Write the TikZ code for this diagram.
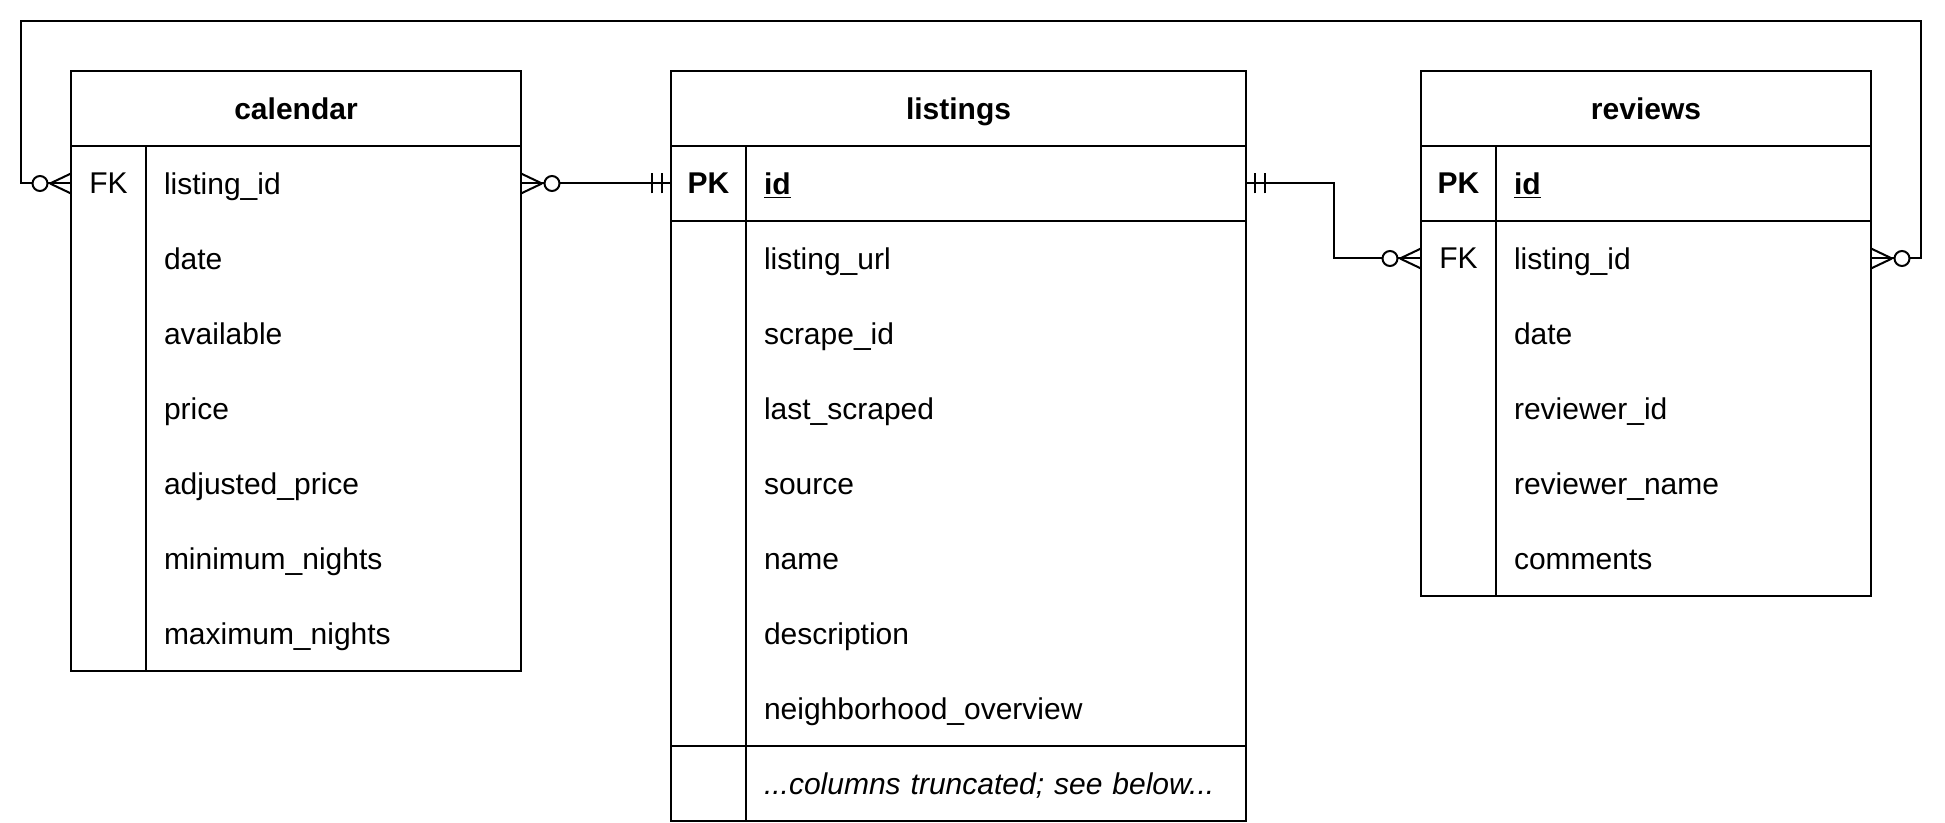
\documentclass[tikz,border=0pt]{standalone}
\usepackage{fontspec}
\setmainfont{Liberation Sans}
\usetikzlibrary{positioning,calc}

% crow's foot ends
\tikzset{
  zmany/.pic={
    \draw (21,0) -- (0,10) (21,0) -- (0,-10);
    \draw[fill=white] (31,0) circle[radius=7.5];
  },
  onlyone/.pic={
    \draw (9,10) -- (9,-10) (19,10) -- (19,-10);
  }
}

\begin{document}
\begin{tikzpicture}[x=0.5pt, y=-0.5pt, line width=1pt,
    font=\fontsize{15}{18}\selectfont,
    every node/.style={inner sep=0pt, outer sep=0pt},
    title/.style={draw, font=\fontsize{15}{18}\selectfont\bfseries, minimum height=37.5pt,
                  text height=10.75pt, text depth=0pt},
    keycell/.style={minimum width=37.5pt, minimum height=37.5pt},
    pkcell/.style={keycell, font=\fontsize{15}{18}\selectfont\bfseries},
    field/.style={minimum height=37.5pt, text width=#1, align=left,
                  inner xsep=9pt, text height=10.75pt, text depth=0pt},
    field/.default=169.5pt]

   \useasboundingbox (0,0) rectangle (1945,823);

   % calendar
   \node[title, minimum width=225pt, anchor=north west] (cal) at (71,71) {calendar};
   \node[keycell, anchor=north west] (calk1) at (cal.south west) {FK};
   \node[field, anchor=north west] (cal1) at (calk1.north east) {listing\_id};
   \node[field, below=0pt of cal1] (cal2) {date};
   \node[field, below=0pt of cal2] (cal3) {available};
   \node[field, below=0pt of cal3] (cal4) {price};
   \node[field, below=0pt of cal4] (cal5) {adjusted\_price};
   \node[field, below=0pt of cal5] (cal6) {minimum\_nights};
   \node[field, below=0pt of cal6] (cal7) {maximum\_nights};
   \draw (cal.south west) rectangle (cal7.south east);
   \draw (calk1.north east) -- (calk1.north east |- cal7.south);

   % listings
   \node[title, minimum width=287.5pt, anchor=north west] (lst) at (671,71) {listings};
   \node[pkcell, anchor=north west] (lstk1) at (lst.south west) {PK};
   \node[field=232pt, font=\fontsize{15}{18}\selectfont\bfseries,
         anchor=north west] (lst1) at (lstk1.north east) {\underline{id}};
   \node[field=232pt, below=0pt of lst1] (lst2) {listing\_url};
   \node[field=232pt, below=0pt of lst2] (lst3) {scrape\_id};
   \node[field=232pt, below=0pt of lst3] (lst4) {last\_scraped};
   \node[field=232pt, below=0pt of lst4] (lst5) {source};
   \node[field=232pt, below=0pt of lst5] (lst6) {name};
   \node[field=232pt, below=0pt of lst6] (lst7) {description};
   \node[field=232pt, below=0pt of lst7] (lst8) {neighborhood\_overview};
   \node[field=232pt, below=0pt of lst8] (lst9) {\textit{...columns truncated; see below...}};
   \draw (lst.south west) rectangle (lst9.south east);
   \draw (lstk1.north east) -- (lstk1.north east |- lst9.south);
   \draw (lstk1.south west) -- (lst1.south east);
   \draw (lst9.north west -| lst.west) -- (lst9.north east);

   % reviews
   \node[title, minimum width=225pt, anchor=north west] (rev) at (1421,71) {reviews};
   \node[pkcell, anchor=north west] (revk1) at (rev.south west) {PK};
   \node[field, font=\fontsize{15}{18}\selectfont\bfseries,
         anchor=north west] (rev1) at (revk1.north east) {\underline{id}};
   \node[keycell, below=0pt of revk1] (revk2) {FK};
   \node[field, below=0pt of rev1] (rev2) {listing\_id};
   \node[field, below=0pt of rev2] (rev3) {date};
   \node[field, below=0pt of rev3] (rev4) {reviewer\_id};
   \node[field, below=0pt of rev4] (rev5) {reviewer\_name};
   \node[field, below=0pt of rev5] (rev6) {comments};
   \draw (rev.south west) rectangle (rev6.south east);
   \draw (revk1.north east) -- (revk1.north east |- rev6.south);
   \draw (revk1.south west) -- (rev1.south east);

   % Connect the tables
   \coordinate (bendl) at (21,21);
   \coordinate (bendr) at (1921,21);
   \draw (cal1.east) -- (lstk1.west);
   \draw (lst1.east) -| ($(lst1.east)!0.5!(revk2.west)$) |- (revk2.west);
   \draw (calk1.west) -| (bendl) -- (bendr) |- (rev2.east);

   \pic at (cal1.east) {zmany};
   \pic[xscale=-1] at (lstk1.west) {onlyone};
   \pic at (lst1.east) {onlyone};
   \pic[xscale=-1] at (revk2.west) {zmany};
   \pic[xscale=-1] at (calk1.west) {zmany};
   \pic at (rev2.east) {zmany};
\end{tikzpicture}
\end{document}
